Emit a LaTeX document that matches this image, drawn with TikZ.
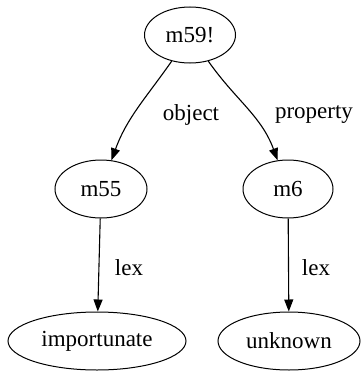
\documentclass[tikz,border=0pt]{standalone}
\usepackage{fontspec}
\setmainfont{Liberation Serif}
\usetikzlibrary{arrows.meta}
\usetikzlibrary{shapes.geometric}

\begin{document}
\begin{tikzpicture}[x=1pt, y=1pt,
    vert/.style = {draw, ellipse, line width=1pt, inner sep=0pt, minimum height=58pt, font=\fontsize{23}{27}\selectfont},
    edge/.style = {draw, line width=1.1pt, -{Triangle[length=12pt, width=9pt]}},
    lbl/.style  = {font=\fontsize{23}{27}\selectfont, inner sep=0pt}]
  \useasboundingbox (0,0) rectangle (360,-372);

  \node[vert, minimum width=91pt, minimum height=56pt] (m59) at (190,-35)  {m59!};
  \node[vert, minimum width=92pt]  (m55) at (101,-189) {m55};
  \node[vert, minimum width=90pt]  (m6)  at (288,-189) {m6};
  \node[vert, minimum width=178pt] (imp) at (97,-341)  {importunate};
  \node[vert, minimum width=142pt] (unk) at (289,-341) {unknown};

  \draw[edge] (m59) to[out=-125, in=70]  (m55);
  \draw[edge] (m59) to[out=-55,  in=110] (m6);
  \draw[edge] (m55) -- (imp);
  \draw[edge] (m6)  -- (unk);

  \node[lbl] (lobj)  at (191,-115) {object};
  \node[lbl] (lprop) at (314,-115) {property};
  \node[lbl] (llex1) at (129,-268) {lex};
  \node[lbl] (llex2) at (316,-268) {lex};
\end{tikzpicture}
\end{document}
